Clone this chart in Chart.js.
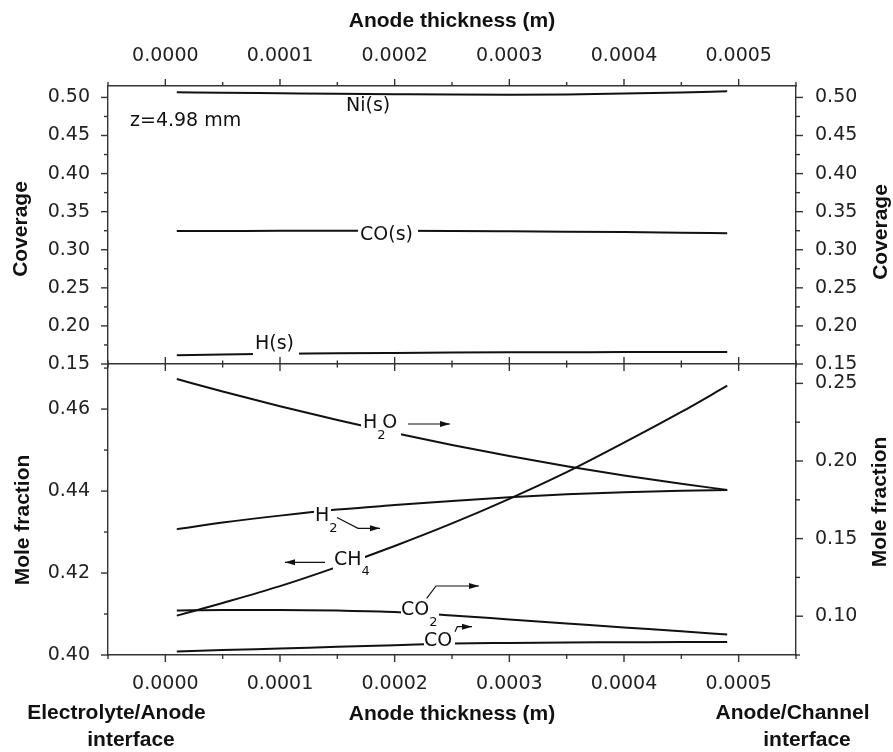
<!DOCTYPE html>
<html>
<head>
<meta charset="utf-8">
<script src="https://cdn.jsdelivr.net/npm/chart.js@4.4.1/dist/chart.umd.min.js"></script>
<style>
  html, body { margin: 0; padding: 0; background: #fff; }
  #wrap { position: relative; width: 893px; height: 752px; }
  #wrap canvas { position: absolute; left: 0; top: 0; }
</style>
</head>
<body>
<div id="wrap">
  <canvas id="coverage" width="893" height="752"></canvas>
  <canvas id="moles" width="893" height="752"></canvas>
</div>
<script>
// anode depth (m), electrolyte side -> channel side
const thickness = [0.00001, 0.00005, 0.0001, 0.00015, 0.0002, 0.00025, 0.0003, 0.00035, 0.0004, 0.00045, 0.00049];

// surface coverages
const niCoverage = [0.5068, 0.5062, 0.5055, 0.5048, 0.5042, 0.5037, 0.5036, 0.5040, 0.5050, 0.5065, 0.5082];
const coCoverage = [0.3246, 0.3247, 0.3248, 0.3248, 0.3248, 0.3247, 0.3243, 0.3238, 0.3232, 0.3224, 0.3216];
const hCoverage = [0.1614, 0.1625, 0.1634, 0.1641, 0.1646, 0.1650, 0.1653, 0.1655, 0.1656, 0.1657, 0.1657];

// gas mole fractions (CH4 on the left axis, the rest on the right)
const ch4Fraction = [0.4096, 0.4127, 0.4168, 0.4215, 0.4266, 0.4321, 0.4381, 0.4446, 0.4518, 0.4593, 0.4657];
const h2oFraction = [0.2528, 0.2448, 0.2353, 0.2264, 0.2181, 0.2103, 0.2032, 0.1966, 0.1906, 0.1853, 0.1814];
const h2Fraction = [0.1561, 0.1603, 0.1648, 0.1687, 0.1716, 0.1743, 0.1766, 0.1785, 0.1799, 0.1808, 0.1813];
const co2Fraction = [0.1037, 0.1040, 0.1040, 0.1036, 0.1027, 0.1005, 0.0979, 0.0953, 0.0927, 0.0903, 0.0882];
const coFraction = [0.0772, 0.0782, 0.0792, 0.0803, 0.0813, 0.0824, 0.0828, 0.0831, 0.0832, 0.0834, 0.0834];

// tick positions
const xMajor = [0, 0.0001, 0.0002, 0.0003, 0.0004, 0.0005];
const xMinor = [-0.00005, 0.00005, 0.00015, 0.00025, 0.00035, 0.00045, 0.00055];
const coverageMajor = [0.15, 0.20, 0.25, 0.30, 0.35, 0.40, 0.45, 0.50];
const coverageMinor = [0.175, 0.225, 0.275, 0.325, 0.375, 0.425, 0.475];
const moleLeftMajor = [0.40, 0.42, 0.44, 0.46];
const moleLeftMinor = [0.41, 0.43, 0.45, 0.47];
const moleRightMajor = [0.10, 0.15, 0.20, 0.25];
const moleRightMinor = [0.075, 0.125, 0.175, 0.225];

const INK = '#111';
const AXIS = '#333';
const tickFont = { family: 'DejaVu Sans', size: 19 };
const labelFont = '19px "DejaVu Sans"';
const subFont = '13px "DejaVu Sans"';
const boldFont = 'bold 21px "Liberation Sans"';

function series(values, xAxisID, yAxisID) {
  return {
    data: thickness.map((x, i) => ({ x, y: values[i] })),
    xAxisID,
    yAxisID,
    borderColor: INK,
    borderWidth: 2,
    pointRadius: 0,
    cubicInterpolationMode: 'monotone',
    fill: false
  };
}

function axis(position, min, max, values, digits, padding, size, title) {
  const horizontal = position === 'top' || position === 'bottom';
  return {
    type: 'linear',
    position,
    min,
    max,
    grid: { display: false, drawTicks: false },
    border: { display: true, color: AXIS, width: 1.4 },
    ticks: {
      display: values.length > 0,
      font: tickFont,
      color: '#222',
      padding,
      autoSkip: false,
      maxRotation: 0,
      callback: (v) => Number(v).toFixed(digits)
    },
    title: title || { display: false },
    afterBuildTicks: (scale) => {
      if (values.length) scale.ticks = values.map((value) => ({ value }));
    },
    afterFit: (scale) => {
      if (horizontal) scale.height = size;
      else scale.width = size;
    }
  };
}

// major / minor tick marks drawn on each axis line
function tickMarks(specs) {
  return {
    id: 'tickMarks',
    afterDraw(chart) {
      const { ctx, chartArea } = chart;
      ctx.save();
      ctx.strokeStyle = AXIS;
      ctx.lineWidth = 1.4;
      specs.forEach(({ id, major, minor, side }) => {
        const scale = chart.scales[id];
        const mark = (v, len) => {
          const p = scale.getPixelForValue(v);
          ctx.beginPath();
          if (side === 'left') {
            ctx.moveTo(chartArea.left - len, p); ctx.lineTo(chartArea.left, p);
          } else if (side === 'right') {
            ctx.moveTo(chartArea.right, p); ctx.lineTo(chartArea.right + len, p);
          } else if (side === 'up') {
            ctx.moveTo(p, chartArea.top - len); ctx.lineTo(p, chartArea.top);
          } else if (side === 'down') {
            ctx.moveTo(p, chartArea.bottom); ctx.lineTo(p, chartArea.bottom + len);
          } else {
            ctx.moveTo(p, chartArea.top - len); ctx.lineTo(p, chartArea.top + len);
          }
          ctx.stroke();
        };
        major.forEach((v) => mark(v, 7));
        minor.forEach((v) => mark(v, side === 'both' ? 3.5 : 4));
      });
      ctx.restore();
    }
  };
}

function drawArrow(ctx, pts) {
  ctx.beginPath();
  ctx.moveTo(pts[0][0], pts[0][1]);
  pts.slice(1).forEach(([x, y]) => ctx.lineTo(x, y));
  ctx.stroke();
  const [x1, y1] = pts[pts.length - 2];
  const [x2, y2] = pts[pts.length - 1];
  const a = Math.atan2(y2 - y1, x2 - x1);
  ctx.beginPath();
  ctx.moveTo(x2, y2);
  ctx.lineTo(x2 - 10 * Math.cos(a) + 3 * Math.sin(a), y2 - 10 * Math.sin(a) - 3 * Math.cos(a));
  ctx.lineTo(x2 - 10 * Math.cos(a) - 3 * Math.sin(a), y2 - 10 * Math.sin(a) + 3 * Math.cos(a));
  ctx.closePath();
  ctx.fill();
}

// formula written piece by piece, '_' marks a subscript
function drawFormula(ctx, parts, x, y) {
  let cx = x;
  parts.forEach((part) => {
    if (part.startsWith('_')) {
      ctx.font = subFont;
      const t = part.slice(1);
      ctx.fillText(t, cx, y + 12);
      cx += ctx.measureText(t).width * 0.6;
    } else {
      ctx.font = labelFont;
      ctx.fillText(part, cx, y);
      cx += ctx.measureText(part).width;
    }
  });
}

function annotations(notes) {
  return {
    id: 'annotations',
    afterDatasetsDraw(chart) {
      const { ctx } = chart;
      ctx.save();
      ctx.fillStyle = '#fff';
      (notes.masks || []).forEach(([x, y, w, h]) => ctx.fillRect(x, y, w, h));
      ctx.restore();
    },
    afterDraw(chart) {
      const { ctx } = chart;
      ctx.save();
      ctx.fillStyle = INK;
      ctx.strokeStyle = INK;
      ctx.lineWidth = 1.2;
      ctx.textBaseline = 'middle';
      ctx.textAlign = 'left';
      (notes.texts || []).forEach(({ text, x, y }) => {
        ctx.font = labelFont;
        ctx.fillText(text, x, y);
      });
      (notes.formulas || []).forEach(({ parts, x, y }) => drawFormula(ctx, parts, x, y));
      (notes.arrows || []).forEach((pts) => drawArrow(ctx, pts));
      ctx.font = boldFont;
      ctx.textAlign = 'center';
      (notes.titles || []).forEach(({ text, x, y, vertical }) => {
        ctx.save();
        ctx.translate(x, y);
        if (vertical) ctx.rotate(-Math.PI / 2);
        ctx.fillText(text, 0, 0);
        ctx.restore();
      });
      ctx.restore();
    }
  };
}

const commonOptions = {
  responsive: false,
  animation: false,
  events: [],
  plugins: { legend: { display: false }, tooltip: { enabled: false } }
};

const axisTitleFont = { family: 'Liberation Sans', size: 21, weight: 'bold' };

// upper panel: surface coverage
new Chart(document.getElementById('coverage'), {
  type: 'line',
  data: {
    datasets: [
      series(niCoverage, 'xTop', 'yTop'),
      series(coCoverage, 'xTop', 'yTop'),
      series(hCoverage, 'xTop', 'yTop')
    ]
  },
  options: {
    ...commonOptions,
    layout: { padding: { top: 0, bottom: 388, left: 0, right: 0 } },
    scales: {
      xTop: axis('top', -0.00005, 0.00055, xMajor, 4, 19, 86, {
        display: true, text: 'Anode thickness (m)', color: INK,
        font: axisTitleFont, padding: { top: 9, bottom: 0 }
      }),
      yTop: axis('left', 0.15, 0.515, coverageMajor, 2, 18, 108),
      yTopR: axis('right', 0.15, 0.515, coverageMajor, 2, 19, 97)
    }
  },
  plugins: [
    tickMarks([
      { id: 'xTop', major: xMajor, minor: xMinor, side: 'up' },
      { id: 'yTop', major: coverageMajor, minor: coverageMinor, side: 'left' },
      { id: 'yTopR', major: coverageMajor, minor: coverageMinor, side: 'right' }
    ]),
    annotations({
      masks: [[358, 226, 60, 19], [253, 334, 46, 22]],
      texts: [
        { text: 'z=4.98 mm', x: 130, y: 121 },
        { text: 'Ni(s)', x: 346, y: 106 },
        { text: 'CO(s)', x: 360, y: 235 },
        { text: 'H(s)', x: 255, y: 344 }
      ],
      titles: [
        { text: 'Coverage', x: 21, y: 229, vertical: true },
        { text: 'Coverage', x: 881, y: 232, vertical: true }
      ]
    })
  ]
});

// lower panel: gas-phase mole fractions
new Chart(document.getElementById('moles'), {
  type: 'line',
  data: {
    datasets: [
      series(ch4Fraction, 'xBot', 'yBot'),
      series(h2oFraction, 'xBot', 'yBotR'),
      series(h2Fraction, 'xBot', 'yBotR'),
      series(co2Fraction, 'xBot', 'yBotR'),
      series(coFraction, 'xBot', 'yBotR')
    ]
  },
  options: {
    ...commonOptions,
    layout: { padding: { top: 344, bottom: 0, left: 0, right: 0 } },
    scales: {
      xMid: axis('top', -0.00005, 0.00055, [], 4, 0, 20),
      xBot: axis('bottom', -0.00005, 0.00055, xMajor, 4, 18, 97, {
        display: true, text: 'Anode thickness (m)', color: INK,
        font: axisTitleFont, padding: { top: 0, bottom: 25 }
      }),
      yBot: axis('left', 0.40, 0.471, moleLeftMajor, 2, 18, 108),
      yBotR: axis('right', 0.075, 0.2625, moleRightMajor, 2, 19, 97)
    }
  },
  plugins: [
    tickMarks([
      { id: 'xMid', major: xMajor, minor: xMinor, side: 'both' },
      { id: 'xBot', major: xMajor, minor: xMinor, side: 'down' },
      { id: 'yBot', major: moleLeftMajor, minor: moleLeftMinor, side: 'left' },
      { id: 'yBotR', major: moleRightMajor, minor: moleRightMinor, side: 'right' }
    ]),
    annotations({
      masks: [
        [361, 413, 40, 28],
        [314, 505, 17, 19],
        [333, 550, 32, 20],
        [401, 601, 38, 19],
        [424, 633, 31, 17]
      ],
      formulas: [
        { parts: ['H', '_2', 'O'], x: 363, y: 423.5 },
        { parts: ['H', '_2'], x: 315, y: 516.5 },
        { parts: ['CH', '_4'], x: 334, y: 560 },
        { parts: ['CO', '_2'], x: 401, y: 610.5 },
        { parts: ['CO'], x: 424, y: 641 }
      ],
      arrows: [
        [[408, 424], [450, 424]],
        [[337, 517.5], [358, 528.3], [380, 528.3]],
        [[325, 562.3], [285, 562.3]],
        [[426.7, 598.3], [436, 586], [479, 586]],
        [[455, 631.7], [457.3, 626.7], [472, 626.7]]
      ],
      titles: [
        { text: 'Mole fraction', x: 23, y: 520, vertical: true },
        { text: 'Mole fraction', x: 880, y: 502, vertical: true },
        { text: 'Electrolyte/Anode', x: 116.5, y: 713 },
        { text: 'interface', x: 131, y: 740 },
        { text: 'Anode/Channel', x: 792.5, y: 713 },
        { text: 'interface', x: 807, y: 740 }
      ]
    })
  ]
});
</script>
</body>
</html>
